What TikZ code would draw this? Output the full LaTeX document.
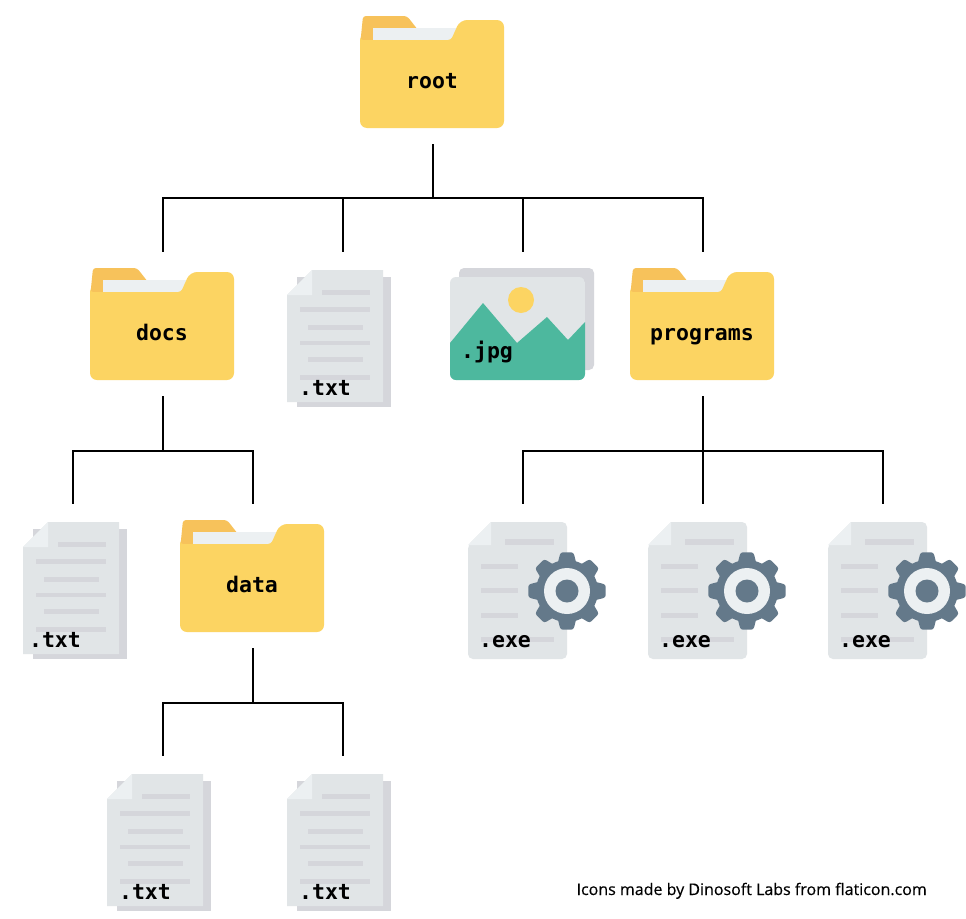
\documentclass[tikz,border=0pt]{standalone}
\usepackage{fontspec}
\newfontfamily\lblfont{DejaVu Sans Mono}
\newfontfamily\creditfont[FakeBold=0.35]{Open Sans}
\definecolor{foldermain}{HTML}{FCD462}
\definecolor{foldertab}{HTML}{F7C25B}
\definecolor{paperlight}{HTML}{ECF0F2}
\definecolor{sheet}{HTML}{E1E5E7}
\definecolor{sheetback}{HTML}{D5D6DB}
\definecolor{teal}{HTML}{4DB89E}
\definecolor{gearcol}{HTML}{64798A}
\tikzset{
  x=1pt,y=-1pt,
  slot/.style={rectangle,minimum width=144pt,minimum height=144pt,inner sep=0pt,outer sep=0pt},
  conn/.style={draw=black,line width=2pt},
  lbl/.style={font=\lblfont\bfseries\fontsize{21.5}{24}\selectfont,text=black,anchor=base,inner sep=0pt},
  credit/.style={font=\creditfont\fontsize{16}{20}\selectfont,text=black,anchor=base east,inner sep=0pt},
  folder/.pic={
    \fill[foldertab,rounded corners=3pt] (0,30) -- (3,0) -- (47,0) -- (58,14) -- (58,30) -- cycle;
    \fill[paperlight] (13,12) rectangle (96,26);
    \fill[foldermain,rounded corners=7pt] (0,24) -- (0,112) -- (144,112) -- (144,4) -- (100,4) [rounded corners=3pt] -- (91,24) -- (0,24) -- cycle;
  },
  txtfile/.pic={
    \fill[sheetback] (10,7) rectangle (104,137);
    \fill[sheet] (25,0) -- (96,0) -- (96,132) -- (0,132) -- (0,25) -- cycle;
    \fill[paperlight] (25,0) -- (25,25) -- (0,25) -- cycle;
    \fill[sheetback] (35,20) rectangle (83,25);
    \fill[sheetback] (13,37) rectangle (83,42);
    \fill[sheetback] (21,55) rectangle (76,60);
    \fill[sheetback] (13,71) rectangle (83,75);
    \fill[sheetback] (21,87) rectangle (76,92);
    \fill[sheetback] (13,105) rectangle (83,110);
  },
  imgfile/.pic={
    \fill[sheetback,rounded corners=5pt] (9,0) rectangle (144,102);
    \begin{scope}
      \clip[rounded corners=6pt] (0,9) rectangle (135,112);
      \fill[sheet] (0,9) rectangle (135,112);
      \fill[foldermain] (71,32) circle[radius=13];
      \fill[teal] (0,75) -- (33,35) -- (67,75) -- (97,49) -- (118,72) -- (135,54) -- (135,112) -- (0,112) -- cycle;
    \end{scope}
  },
  exefile/.pic={
    \fill[sheet,rounded corners=5pt] (0,137) -- (0,23) [sharp corners] -- (23,0) [rounded corners=5pt] -- (99,0) -- (99,137) -- cycle;
    \fill[paperlight] (23,0) -- (23,23) -- (0,23) -- cycle;
    \fill[sheetback] (37,17) rectangle (86,23);
    \fill[sheetback] (13,42) rectangle (50,47);
    \fill[sheetback] (13,66) rectangle (50,71);
    \fill[sheetback] (13,91) rectangle (50,96);
    \fill[sheetback] (13,115) rectangle (86,120);
    \begin{scope}[shift={(99,69)}]
      \fill[gearcol] (0,0) circle[radius=31];
      \foreach \a in {0,45,...,315}{
        \fill[gearcol,rotate=\a,rounded corners=2.5pt] (25,-10) -- (38.7,-6.5) -- (38.7,6.5) -- (25,10) -- cycle;
      }
      \fill[paperlight] (0,0) circle[radius=23];
      \fill[gearcol] (0,0) circle[radius=11.5];
    \end{scope}
  },
}
\begin{document}
\begin{tikzpicture}
\useasboundingbox (0,0) rectangle (966,918);
\fill[white] (0,0) rectangle (966,918);
% icons
\pic at (360,16) {folder};
\pic at (90,268) {folder};
\pic at (630,268) {folder};
\pic at (180,520) {folder};
\pic at (287,270) {txtfile};
\pic at (23,522) {txtfile};
\pic at (107,774) {txtfile};
\pic at (287,774) {txtfile};
\pic at (450,268) {imgfile};
\pic at (468,522) {exefile};
\pic at (648,522) {exefile};
\pic at (828,522) {exefile};
% slots used by connectors
\node[slot] (root) at (433,72) {};
\node[slot] (docs) at (163,324) {};
\node[slot] (txtA) at (343,324) {};
\node[slot] (jpg) at (523,324) {};
\node[slot] (programs) at (703,324) {};
\node[slot] (txtB) at (73,576) {};
\node[slot] (data) at (253,576) {};
\node[slot] (exeA) at (523,576) {};
\node[slot] (exeB) at (703,576) {};
\node[slot] (exeC) at (883,576) {};
\node[slot] (txtC) at (163,828) {};
\node[slot] (txtD) at (343,828) {};
% connectors
\draw[conn] (root.south) -- ++(0,54) -| (docs.north);
\draw[conn] (root.south) -- ++(0,54) -| (txtA.north);
\draw[conn] (root.south) -- ++(0,54) -| (jpg.north);
\draw[conn] (root.south) -- ++(0,54) -| (programs.north);
\draw[conn] (docs.south) -- ++(0,55) -| (txtB.north);
\draw[conn] (docs.south) -- ++(0,55) -| (data.north);
\draw[conn] (programs.south) -- ++(0,55) -| (exeA.north);
\draw[conn] (programs.south) -- (exeB.north);
\draw[conn] (programs.south) -- ++(0,55) -| (exeC.north);
\draw[conn] (data.south) -- ++(0,55) -| (txtC.north);
\draw[conn] (data.south) -- ++(0,55) -| (txtD.north);
% labels
\node[lbl] (lroot) at (432,88) {root};
\node[lbl] (ldocs) at (162,340) {docs};
\node[lbl] (lprograms) at (702,340) {programs};
\node[lbl] (ldata) at (252,592) {data};
\node[lbl] (ltxtA) at (325,395) {.txt};
\node[lbl] (ltxtB) at (55,647) {.txt};
\node[lbl] (ltxtC) at (145,899) {.txt};
\node[lbl] (ltxtD) at (325,899) {.txt};
\node[lbl] (ljpg) at (487,358) {.jpg};
\node[lbl] (lexeA) at (505,647) {.exe};
\node[lbl] (lexeB) at (685,647) {.exe};
\node[lbl] (lexeC) at (865,647) {.exe};
\node[credit] (cr) at (927,895) {Icons made by Dinosoft Labs from flaticon.com};
\end{tikzpicture}
\end{document}
